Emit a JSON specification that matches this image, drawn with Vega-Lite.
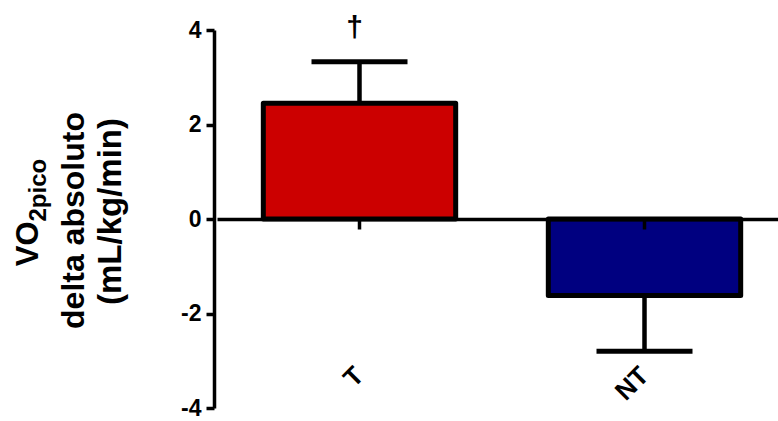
{
  "$schema": "https://vega.github.io/schema/vega-lite/v6.json",
  "width": 564,
  "height": 378,
  "autosize": {"type": "none"},
  "padding": {"left": 214, "top": 30, "right": 0, "bottom": 13},
  "config": {
    "view": {"stroke": null},
    "font": "Liberation Sans",
    "axis": {"grid": false, "domainColor": "black", "tickColor": "black", "labelColor": "black", "titleColor": "black"}
  },
  "data": {
    "values": [
      {"group": "T", "mean": 2.45, "err": 3.33, "sig": "†"},
      {"group": "NT", "mean": -1.62, "err": -2.8, "sig": ""}
    ]
  },
  "encoding": {
    "x": {
      "field": "group",
      "type": "nominal",
      "sort": ["T", "NT"],
      "scale": {"paddingInner": 0, "paddingOuter": 0, "range": [3, 573]},
      "axis": {
        "orient": "bottom",
        "offset": -189,
        "title": null,
        "domain": true,
        "domainWidth": 3.5,
        "ticks": true,
        "tickSize": 10,
        "tickWidth": 3.5,
        "labelAngle": -45,
        "labelAlign": "right",
        "labelBaseline": "middle",
        "labelFontSize": 26,
        "labelFontWeight": "bold",
        "labelPadding": 142,
        "zindex": 1
      }
    }
  },
  "layer": [
    {
      "mark": {"type": "rule", "color": "black", "strokeWidth": 4.5},
      "encoding": {
        "y": {
          "field": "mean",
          "type": "quantitative",
          "scale": {"domain": [-4, 4], "nice": false, "zero": false},
          "axis": {
            "orient": "left",
            "domain": false, "ticks": false, "labels": false,
            "title": "delta absoluto",
            "titleFontSize": 32, "titleFontWeight": "bold",
            "titleAngle": 270, "titleAlign": "center", "titleBaseline": "alphabetic",
            "titleX": -130.5, "titleY": 190
          }
        },
        "y2": {"field": "err"}
      }
    },
    {
      "mark": {"type": "bar", "stroke": "black", "strokeWidth": 5, "strokeJoin": "round", "width": {"band": 0.675}},
      "encoding": {
        "y": {
          "field": "mean",
          "type": "quantitative",
          "axis": {
            "orient": "left",
            "values": [-4, -2, 0, 2, 4],
            "labelExpr": "'' + datum.value",
            "domainWidth": 3.5,
            "tickWidth": 3.5,
            "tickSize": 8,
            "labelFontSize": 23,
            "labelFontWeight": "bold",
            "labelPadding": 5,
            "title": "(mL/kg/min)",
            "titleFontSize": 33, "titleFontWeight": "bold",
            "titleAngle": 270, "titleAlign": "center", "titleBaseline": "alphabetic",
            "titleX": -94, "titleY": 181
          }
        },
        "color": {
          "field": "group",
          "type": "nominal",
          "scale": {"domain": ["T", "NT"], "range": ["#CC0000", "#000080"]},
          "legend": null
        }
      }
    },
    {
      "mark": {"type": "tick", "color": "black", "opacity": 1, "size": 96, "thickness": 5},
      "encoding": {
        "y": {
          "field": "err",
          "type": "quantitative",
          "axis": {
            "orient": "left",
            "domain": false, "ticks": false, "labels": false,
            "title": "VO",
            "titleFontSize": 31, "titleFontWeight": "bold",
            "titleAngle": 270, "titleAlign": "right", "titleBaseline": "alphabetic",
            "titleX": -176.5, "titleY": 191
          }
        }
      }
    },
    {
      "mark": {"type": "text", "color": "black", "fontSize": 30, "fontWeight": "bold", "baseline": "middle", "dx": -5, "dy": -34},
      "encoding": {
        "text": {"field": "sig"},
        "y": {
          "field": "err",
          "type": "quantitative",
          "axis": {
            "orient": "left",
            "domain": false, "ticks": false, "labels": false,
            "title": "2pico",
            "titleFontSize": 24, "titleFontWeight": "bold",
            "titleAngle": 270, "titleAlign": "left", "titleBaseline": "alphabetic",
            "titleX": -169, "titleY": 191
          }
        }
      }
    }
  ],
  "resolve": {"axis": {"y": "independent"}}
}
